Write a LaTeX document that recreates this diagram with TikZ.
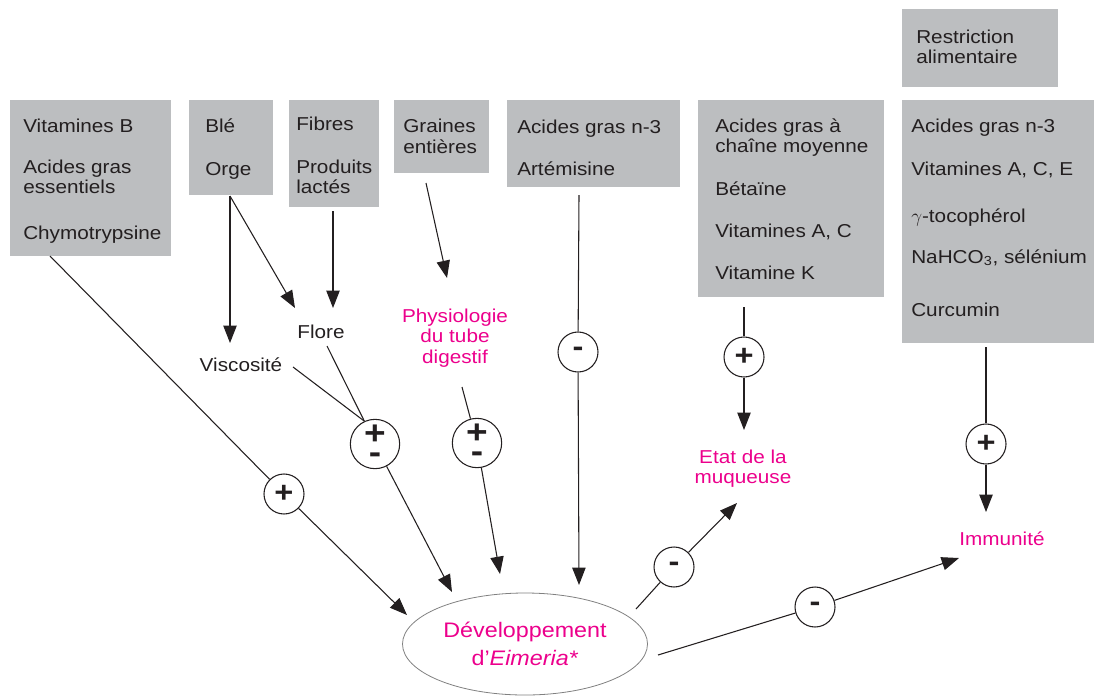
\documentclass[tikz,border=0pt]{standalone}
\usepackage{fontspec}
\setmainfont{Liberation Sans}[FakeStretch=1.11]
\usetikzlibrary{arrows.meta,shapes.geometric}
\definecolor{boxgrey}{RGB}{188,190,192}
\definecolor{pinkred}{RGB}{236,0,140}
\definecolor{ink}{RGB}{35,31,32}

\begin{document}
\begin{tikzpicture}[x=0.75pt, y=-0.75pt, ink,
    item/.style={anchor=base west, inner sep=0pt, font=\fontsize{14}{15.5}\selectfont},
    effect/.style={inner sep=0pt, align=center, text=pinkred, font=\fontsize{14}{15.5}\selectfont},
    sign/.style={draw, circle, line width=0.8pt, minimum size=30pt, inner sep=0pt,
      font=\fontsize{22}{13}\selectfont\bfseries},
    mixed/.style={sign, minimum size=37pt, align=center, font=\fontsize{25}{14}\selectfont\bfseries},
    link/.style={line width=0.8pt},
    flow/.style={link, -{Triangle[length=13pt,width=10pt]}}]
  \useasboundingbox (0,0) rectangle (1094,696);

  % grey boxes
  \fill[boxgrey] (10,100) rectangle (171,256);
  \fill[boxgrey] (189,100) rectangle (273,195);
  \fill[boxgrey] (289,100) rectangle (379,207);
  \fill[boxgrey] (394,100) rectangle (489,173);
  \fill[boxgrey] (507,100) rectangle (680,187);
  \fill[boxgrey] (698,100) rectangle (884,297);
  \fill[boxgrey] (902,9) rectangle (1058,87);
  \fill[boxgrey] (902,100) rectangle (1094,343);

  \node[item] (vitb) at (23,132) {Vitamines B};
  \node[item] (agess) at (23,173) {Acides gras};
  \node[item] (agess2) at (23,193) {essentiels};
  \node[item] (chymo) at (23,239) {Chymotrypsine};

  \node[item] (ble) at (205,132) {Blé};
  \node[item] (orge) at (205,175) {Orge};

  \node[item] (fibres) at (296,130) {Fibres};
  \node[item] (lait) at (296,173) {Produits};
  \node[item] (lait2) at (296,193) {lactés};

  \node[item] (graines) at (403,132) {Graines};
  \node[item] (graines2) at (403,153) {entières};

  \node[item] (agn3) at (517,133) {Acides gras n-3};
  \node[item] (artem) at (517,175) {Artémisine};

  \node[item] (agcm) at (715,132) {Acides gras à};
  \node[item] (agcm2) at (715,152) {chaîne moyenne};
  \node[item] (betaine) at (715,195) {Bétaïne};
  \node[item] (vitac) at (715,237) {Vitamines A, C};
  \node[item] (vitk) at (715,279) {Vitamine K};

  \node[item] (restr) at (916,43) {Restriction};
  \node[item] (restr2) at (916,63) {alimentaire};

  \node[item] (agn3b) at (911,132) {Acides gras n-3};
  \node[item] (vitace) at (911,175) {Vitamines A, C, E};
  \node[item] (toco) at (911,222) {$\gamma$-tocophérol};
  \node[item] (nahco) at (911,263) {NaHCO\textsubscript{3}, sélénium};
  \node[item] (curcu) at (911,316) {Curcumin};

  % intermediate effects
  \node[inner sep=0pt, anchor=base, font=\fontsize{14}{15.5}\selectfont] (visc) at (241,371) {Viscosité};
  \node[inner sep=0pt, anchor=base, font=\fontsize{14}{15.5}\selectfont] (flore) at (321,338) {Flore};
  \node[effect, anchor=north] (physio) at (455,308.5) {Physiologie\\du tube\\digestif};
  \node[effect, anchor=north] (muq) at (743,449.5) {Etat de la\\muqueuse};
  \node[effect, anchor=base] (immu) at (1002,545) {Immunité};

  \node[ellipse, draw=gray, line width=0.6pt, minimum width=183.75pt, minimum height=76.5pt,
    inner sep=0pt, align=center, text=pinkred, font=\fontsize{15.75}{21.5}\selectfont]
    (eim) at (525,644) {Développement\\d’\textit{Eimeria*}};

  % sign circles
  \node[sign] (c1) at (284,494) {+};
  \node[mixed] (c2) at (375,444) {+\\-};
  \node[mixed] (c3) at (477,443) {+\\-};
  \node[sign] (c4) at (578,352) {-};
  \node[sign] (c5) at (744,357) {+};
  \node[sign] (c6) at (674,567) {-};
  \node[sign] (c7) at (815,607) {-};
  \node[sign] (c8) at (986,444) {+};

  % line ends
  \coordinate (s1) at (50,256);
  \coordinate (t1) at (407,615);
  \coordinate (s2) at (230,196);
  \coordinate (t2a) at (230,343);
  \coordinate (t2b) at (295,308);
  \coordinate (s3) at (333,211);
  \coordinate (t3) at (333,308);
  \coordinate (s4) at (426,183);
  \coordinate (t4) at (447,278);
  \coordinate (s5) at (579,195);
  \coordinate (t5) at (579,585);
  \coordinate (s6) at (744,307);
  \coordinate (t6) at (744,430);
  \coordinate (s8) at (986,347);
  \coordinate (t8) at (986,512);
  \coordinate (v0) at (293,367);
  \coordinate (f0) at (327,346);
  \coordinate (p0) at (462,387);
  \coordinate (tc2) at (452,592);
  \coordinate (tc3) at (500,574);
  \coordinate (e6) at (636,609);
  \coordinate (tm) at (737,503);
  \coordinate (e7) at (658,655);
  \coordinate (ti) at (959,558);

  \draw[flow] (s1) -- (c1) -- (t1);
  \draw[flow] (s2) -- (t2a);
  \draw[flow] (s2) -- (t2b);
  \draw[flow] (s3) -- (t3);
  \draw[flow] (s4) -- (t4);
  \draw[flow] (s5) -- (c4) -- (t5);
  \draw[flow] (s6) -- (c5) -- (t6);
  \draw[flow] (s8) -- (c8) -- (t8);
  \draw[link] (v0) -- (c2.115);
  \draw[link] (f0) -- (c2.115);
  \draw[flow] (c2) -- (tc2);
  \draw[flow] (p0) -- (c3) -- (tc3);
  \draw[flow] (e6) -- (c6) -- (tm);
  \draw[flow] (e7) -- (c7) -- (ti);
\end{tikzpicture}
\end{document}
